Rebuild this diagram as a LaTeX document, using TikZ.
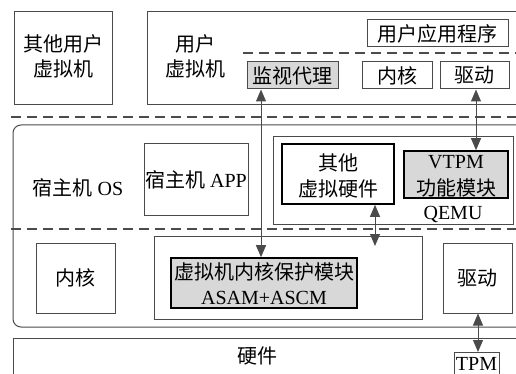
\documentclass[tikz,border=0pt]{standalone}
\usepackage{fontspec}
\setmainfont{Liberation Serif}
\newfontfamily\cjk{Noto Sans CJK SC}
\usetikzlibrary{arrows.meta}
\definecolor{edge}{HTML}{4A4A4A}
\definecolor{shade}{HTML}{D8D8D8}
\tikzset{
  box/.style={draw=edge, line width=1pt},
  boldbox/.style={draw=black, line width=1.6pt},
  txt/.style={inner sep=0pt, font=\fontsize{20}{23}\selectfont, text=black},
  sep/.style={draw=edge, line width=2.4pt, dash pattern=on 10pt off 6pt},
  thinsep/.style={draw=edge, line width=2pt, dash pattern=on 10pt off 6pt},
  link/.style={draw=edge, line width=1pt,
    {Triangle[length=12pt,width=10pt]}-{Triangle[length=12pt,width=10pt]}},
}
\begin{document}
\begin{tikzpicture}[x=1pt, y=-1pt]
\useasboundingbox (0,0) rectangle (516,374);

% guest layer
\draw[box] (14,12) rectangle (112,105);
\node[txt] (o1) at (63,44) {\cjk 其他用户};
\node[txt] (o2) at (63,69) {\cjk 虚拟机};

\draw[box] (518,12) -- (147,12) -- (147,105) -- (518,105);
\node[txt] (u1) at (195,44) {\cjk 用户};
\node[txt] (u2) at (195,69) {\cjk 虚拟机};

\node[box, minimum width=141pt, minimum height=27pt, inner sep=0pt] (app) at (437.5,33.5) {};
\node[txt] at (app.center) {\cjk 用户应用程序};
\draw[thinsep] (243,53) -- (517,53);

\node[box, fill=shade, minimum width=91pt, minimum height=27pt, inner sep=0pt] (mon) at (292.5,75.5) {};
\node[txt] at (mon.center) {\cjk 监视代理};
\node[box, minimum width=70pt, minimum height=27pt, inner sep=0pt] (gk) at (397,75.5) {};
\node[txt] at (gk.center) {\cjk 内核};
\node[box, minimum width=69pt, minimum height=27pt, inner sep=0pt] (gd) at (474.5,75.5) {};
\node[txt] at (gd.center) {\cjk 驱动};

\draw[sep] (11,117) -- (517,117);

% host layer
\draw[box, rounded corners=8pt] (518,125) -- (13,125) -- (13,327) -- (518,327);
\node[txt] (hos) at (78,188) {{\cjk 宿主机} OS};

\node[box, minimum width=104pt, minimum height=71pt, inner sep=0pt] (happ) at (196,179.5) {};
\node[txt] at (happ.center) {{\cjk 宿主机} APP};

\node[box, minimum width=240pt, minimum height=87pt, inner sep=0pt] (qemu) at (393,180.5) {};
\node[txt] (ql) at (453,214.5) {QEMU};

\node[boldbox, minimum width=112pt, minimum height=60pt, inner sep=0pt] (ovh) at (338,174) {};
\node[txt] (ovh1) at (338,163) {\cjk 其他};
\node[txt] (ovh2) at (338,189) {\cjk 虚拟硬件};

\node[boldbox, fill=shade, minimum width=104pt, minimum height=47pt, inner sep=0pt] (vtpm) at (456,174.5) {};
\node[txt] (vt1) at (456,162) {VTPM};
\node[txt] (vt2) at (456,188) {\cjk 功能模块};

\draw[sep] (11,229) -- (517,229);

\node[box, minimum width=79pt, minimum height=70pt, inner sep=0pt] (hk) at (75.5,278) {};
\node[txt] at (hk.center) {\cjk 内核};

\node[box, minimum width=268pt, minimum height=83pt, inner sep=0pt] (prot) at (288,277.5) {};
\node[boldbox, fill=shade, minimum width=186pt, minimum height=50pt, inner sep=0pt] (kpm) at (264,283) {};
\node[txt] (kpm1) at (264,272) {\cjk 虚拟机内核保护模块};
\node[txt] (kpm2) at (264,298) {ASAM+ASCM};

\node[box, minimum width=69pt, minimum height=70pt, inner sep=0pt] (hd) at (477.5,278) {};
\node[txt] at (hd.center) {\cjk 驱动};

% hardware layer
\draw[box] (518,338) -- (13,338) -- (13,376);
\node[txt] (hw) at (257,356) {\cjk 硬件};
\node[box, minimum width=45pt, minimum height=22pt, inner sep=0pt] (tpm) at (476.5,363.5) {};
\node[txt] at (tpm.center) {TPM};

% links between layers
\coordinate (ovhEnd) at (375,246);
\draw[link] (mon.south -| 261,0) -- (kpm.north -| 261,0);
\draw[link] (gd.south -| 476,0) -- (vtpm.north -| 476,0);
\draw[link] (ovh.south -| ovhEnd) -- (ovhEnd);
\draw[link] (hd.south -| 478,0) -- (tpm.north -| 478,0);
\end{tikzpicture}
\end{document}
